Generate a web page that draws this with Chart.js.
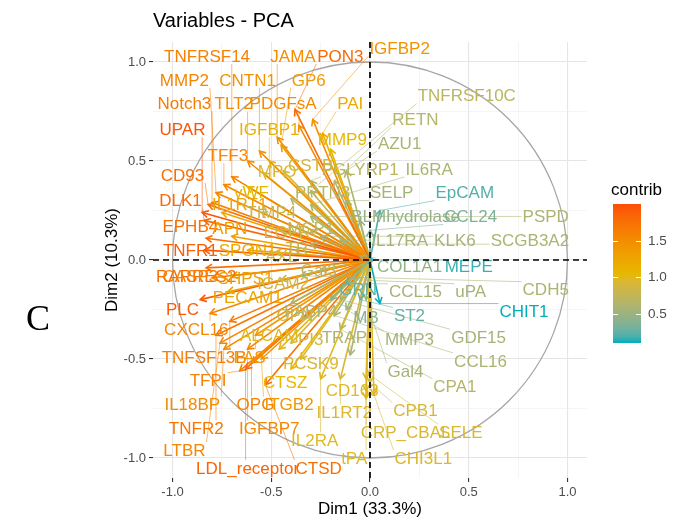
<!DOCTYPE html>
<html>
<head>
<meta charset="utf-8">
<script src="https://cdn.jsdelivr.net/npm/chart.js@4.4.1/dist/chart.umd.min.js"></script>
<style>
  html, body { margin: 0; padding: 0; background: #fff; }
  #wrap { width: 673px; height: 520px; }
</style>
</head>
<body>
<div id="wrap"><canvas id="pca" width="673" height="520"></canvas></div>
<script>
// PCA - cercle des variables (Dim1 / Dim2), couleur = contrib

const names = ["TNFRSF14","JAMA","PON3","MMP2","CNTN1","GP6","IGFBP2","Notch3","TLT2","PDGFsA",
  "PAI","UPAR","IGFBP1","MMP9","TFF3","MPO","CSTB","PGLYRP1","CD93","vWF",
  "PRTN3","DLK1","IL1RT1","TIMP4","EPHB4","APN","TNFR1","SPON1","RARRES2","CASP3",
  "SHPS1","PECAM1","PLC","CXCL16","FABP4","MB","ALCAM","GRN","PI3","TRAP",
  "TNFSF13B","FAS","PCSK9","Gal4","TFPI","CTSZ","CD163","IL18BP","OPG","ITGB2",
  "IL1RT2","CPB1","TNFR2","IGFBP7","CRP_CBAL","SELE","IL2RA","LTBR","tPA","CHI3L1",
  "LDL_receptor","CTSD","TNFRSF10C","RETN","AZU1","IL6RA","SELP","EpCAM","BLMhydrolase","CCL24",
  "PSPD","IL17RA","KLK6","SCGB3A2","COL1A1","MEPE","CDH5","CCL15","uPA","CHIT1",
  "ST2","GDF15","MMP3","CCL16","CPA1","EGFR","AXL","ICAM2","OPN","MCP1",
  "Gal3","TR"];

// coordonnées des flèches
const dim1 = [-0.70,-0.47,-0.38,-0.78,-0.56,-0.45,-0.29,-0.80,-0.62,-0.36,
  -0.24,-0.85,-0.51,-0.20,-0.74,-0.54,-0.44,-0.30,-0.82,-0.62,
  -0.40,-0.84,-0.75,-0.55,-0.83,-0.70,-0.84,-0.62,-0.83,-0.80,
  -0.70,-0.72,-0.86,-0.81,-0.40,-0.20,-0.46,-0.12,-0.40,-0.10,
  -0.71,-0.58,-0.35,-0.02,-0.66,-0.40,-0.02,-0.74,-0.60,-0.55,
  -0.15,0.00,-0.78,-0.62,-0.02,0.00,-0.25,-0.76,-0.02,0.02,
  -0.63,-0.53,-0.30,-0.18,-0.12,-0.30,-0.12,0.05,-0.05,0.00,
  -0.30,-0.15,-0.25,-0.30,-0.05,0.02,-0.35,-0.10,-0.08,0.05,
  -0.05,-0.15,-0.12,-0.18,-0.15,-0.45,-0.48,-0.45,-0.35,-0.30,
  -0.25,-0.38];
const dim2 = [0.42,0.62,0.76,0.34,0.55,0.58,0.71,0.29,0.50,0.68,
  0.64,0.24,0.50,0.56,0.38,0.44,0.45,0.40,0.28,0.37,
  0.31,0.20,0.24,0.24,0.11,0.12,0.05,0.05,-0.04,-0.09,
  -0.08,-0.16,-0.20,-0.27,-0.22,-0.20,-0.45,-0.12,-0.42,-0.48,
  -0.31,-0.38,-0.50,-0.20,-0.56,-0.55,-0.60,-0.45,-0.52,-0.50,
  -0.60,-0.62,-0.38,-0.45,-0.66,-0.58,-0.60,-0.42,-0.70,-0.68,
  -0.55,-0.63,0.35,0.40,0.45,0.28,0.30,0.25,0.20,0.15,
  0.22,0.10,0.12,0.08,0.02,0.00,-0.08,-0.12,-0.10,-0.22,
  -0.20,-0.20,-0.25,-0.28,-0.35,0.15,0.04,-0.10,-0.30,0.15,
  -0.05,0.05];
const contrib = [1.60,1.50,1.80,1.55,1.45,1.35,1.45,1.65,1.50,1.50,
  1.20,1.97,1.15,1.05,1.55,0.95,0.90,0.70,1.75,1.05,
  0.65,1.80,1.25,0.80,1.75,1.30,1.90,1.20,1.75,1.60,
  1.30,1.25,1.90,1.55,0.60,0.40,1.00,0.25,0.90,0.60,
  1.65,1.35,0.95,0.55,1.60,1.05,1.00,1.50,1.60,1.40,
  0.95,0.90,1.70,1.55,0.95,0.95,1.00,1.55,1.00,0.95,
  1.85,1.75,0.70,0.65,0.60,0.60,0.55,0.20,0.45,0.35,
  0.60,0.55,0.55,0.60,0.45,0.15,0.60,0.55,0.55,0.10,
  0.25,0.55,0.55,0.60,0.65,0.85,0.90,0.85,0.80,0.70,
  0.65,0.75];

// positions des étiquettes (repoussées)
const labelX = [-0.825,-0.39,-0.15,-0.94,-0.62,-0.31,0.15,-0.94,-0.69,-0.44,
  -0.10,-0.95,-0.51,-0.14,-0.72,-0.47,-0.30,-0.05,-0.95,-0.60,
  -0.24,-0.96,-0.66,-0.50,-0.91,-0.71,-0.91,-0.62,-0.88,-0.91,
  -0.63,-0.62,-0.95,-0.88,-0.30,-0.02,-0.51,-0.06,-0.30,-0.13,
  -0.84,-0.61,-0.30,0.18,-0.82,-0.43,-0.09,-0.90,-0.58,-0.41,
  -0.13,0.23,-0.88,-0.51,0.18,0.46,-0.28,-0.94,-0.08,0.27,
  -0.62,-0.26,0.49,0.23,0.15,0.30,0.11,0.48,0.18,0.51,
  0.89,0.15,0.43,0.81,0.20,0.50,0.89,0.23,0.51,0.78,
  0.20,0.55,0.20,0.56,0.43,-0.42,-0.45,-0.44,-0.38,-0.30,
  -0.26,-0.37];
const labelY = [1.03,1.03,1.03,0.91,0.91,0.91,1.07,0.79,0.79,0.79,
  0.79,0.66,0.66,0.61,0.53,0.45,0.48,0.46,0.43,0.34,
  0.34,0.30,0.28,0.24,0.17,0.16,0.05,0.05,-0.08,-0.08,
  -0.09,-0.19,-0.25,-0.35,-0.26,-0.29,-0.38,-0.15,-0.40,-0.39,
  -0.49,-0.49,-0.52,-0.56,-0.61,-0.62,-0.66,-0.73,-0.73,-0.73,
  -0.77,-0.76,-0.85,-0.85,-0.87,-0.87,-0.91,-0.96,-1.00,-1.00,
  -1.05,-1.05,0.83,0.71,0.59,0.46,0.34,0.34,0.22,0.22,
  0.22,0.10,0.10,0.10,-0.03,-0.03,-0.15,-0.16,-0.16,-0.26,
  -0.28,-0.39,-0.40,-0.51,-0.64,0.14,0.02,-0.12,-0.28,0.16,
  -0.05,0.06];

const axisTicks = [-1, -0.5, 0, 0.5, 1];
const gridSteps = [-1, -0.75, -0.5, -0.25, 0, 0.25, 0.5, 0.75, 1];
const legendTicks = [0.5, 1.0, 1.5];

const FONT = '"Liberation Sans", Arial, Helvetica, sans-serif';
const LOW = [0, 175, 187], MID = [231, 184, 0], HIGH = [252, 78, 7];
const C_MIN = Math.min(...contrib), C_MAX = Math.max(...contrib) + 0.03;

// interpolation dans l'espace Lab (comme ggplot)
const toLin = c => { c /= 255; return c <= 0.04045 ? c / 12.92 : Math.pow((c + 0.055) / 1.055, 2.4); };
const toSrgb = c => { const v = c <= 0.0031308 ? 12.92 * c : 1.055 * Math.pow(c, 1 / 2.4) - 0.055; return Math.round(Math.max(0, Math.min(1, v)) * 255); };
const WN = [0.95047, 1, 1.08883];
function rgb2lab(rgb) {
  const [r, g, b] = rgb.map(toLin);
  const xyz = [0.4124 * r + 0.3576 * g + 0.1805 * b, 0.2126 * r + 0.7152 * g + 0.0722 * b, 0.0193 * r + 0.1192 * g + 0.9505 * b];
  const f = xyz.map((v, k) => { const t = v / WN[k]; return t > 0.008856 ? Math.cbrt(t) : 7.787 * t + 16 / 116; });
  return [116 * f[1] - 16, 500 * (f[0] - f[1]), 200 * (f[1] - f[2])];
}
function lab2rgb([L, a, bb]) {
  const fy = (L + 16) / 116, fx = fy + a / 500, fz = fy - bb / 200;
  const inv = t => t > 0.206893 ? t * t * t : (t - 16 / 116) / 7.787;
  const X = inv(fx) * WN[0], Y = inv(fy) * WN[1], Z = inv(fz) * WN[2];
  const r = 3.2406 * X - 1.5372 * Y - 0.4986 * Z;
  const g = -0.9689 * X + 1.8758 * Y + 0.0415 * Z;
  const b = 0.0557 * X - 0.2040 * Y + 1.0570 * Z;
  return [toSrgb(r), toSrgb(g), toSrgb(b)];
}
const LAB = [LOW, MID, HIGH].map(rgb2lab);
const mix = (a, b, t) => a.map((v, k) => v + (b[k] - v) * t);

function colorFor(v, alpha = 1) {
  let t = (v - C_MIN) / (C_MAX - C_MIN);
  t = Math.max(0, Math.min(1, t));
  const lab = t < 0.5 ? mix(LAB[0], LAB[1], t * 2) : mix(LAB[1], LAB[2], (t - 0.5) * 2);
  const c = lab2rgb(lab);
  return `rgba(${c[0]},${c[1]},${c[2]},${alpha})`;
}
const isMajor = v => axisTicks.some(t => Math.abs(t - v) < 1e-9);

const datasets = names.map((n, i) => ({
  label: n,
  data: [{ x: 0, y: 0 }, { x: dim1[i], y: dim2[i] }],
  showLine: true,
  borderColor: colorFor(contrib[i]),
  borderWidth: 1.6,
  pointRadius: 0,
  fill: false
}));

const pcaLayer = {
  id: "pcaLayer",
  beforeDatasetsDraw(chart) {
    const { ctx, scales: { x: xs, y: ys } } = chart;
    const cx = xs.getPixelForValue(0), cy = ys.getPixelForValue(0);
    const rx = xs.getPixelForValue(1) - cx, ry = cy - ys.getPixelForValue(1);
    ctx.save();
    ctx.strokeStyle = "#a6a6a6";
    ctx.lineWidth = 1.3;
    ctx.beginPath();
    ctx.ellipse(cx, cy, rx, ry, 0, 0, Math.PI * 2);
    ctx.stroke();
    ctx.restore();
  },
  afterDatasetsDraw(chart) {
    const { ctx, chartArea, scales: { x: xs, y: ys } } = chart;
    const px = v => xs.getPixelForValue(v), py = v => ys.getPixelForValue(v);
    const ox = px(0), oy = py(0);
    ctx.save();

    // têtes de flèches (ouvertes)
    const L = 7, A = Math.PI / 6;
    names.forEach((n, i) => {
      const tx = px(dim1[i]), ty = py(dim2[i]);
      const ang = Math.atan2(ty - oy, tx - ox);
      ctx.strokeStyle = colorFor(contrib[i]);
      ctx.lineWidth = 1.6;
      ctx.beginPath();
      ctx.moveTo(tx - L * Math.cos(ang - A), ty - L * Math.sin(ang - A));
      ctx.lineTo(tx, ty);
      ctx.lineTo(tx - L * Math.cos(ang + A), ty - L * Math.sin(ang + A));
      ctx.stroke();
    });

    // segments vers les étiquettes
    ctx.font = `17px ${FONT}`;
    names.forEach((n, i) => {
      const tx = px(dim1[i]), ty = py(dim2[i]);
      const lx = px(labelX[i]), ly = py(labelY[i]);
      const w = ctx.measureText(n).width, h = 14;
      const bx = Math.max(lx - w / 2 - 1, Math.min(tx, lx + w / 2 + 1));
      const by = Math.max(ly - h / 2 - 1, Math.min(ty, ly + h / 2 + 1));
      if (Math.hypot(bx - tx, by - ty) < 6) return;
      ctx.strokeStyle = colorFor(contrib[i], 0.8);
      ctx.lineWidth = 0.7;
      ctx.beginPath();
      ctx.moveTo(tx, ty);
      ctx.lineTo(bx, by);
      ctx.stroke();
    });

    // étiquettes
    ctx.textAlign = "center";
    ctx.textBaseline = "middle";
    names.forEach((n, i) => {
      ctx.fillStyle = colorFor(contrib[i]);
      ctx.fillText(n, px(labelX[i]), py(labelY[i]) + 1);
    });

    // axes en pointillés
    ctx.strokeStyle = "#000";
    ctx.lineWidth = 1.7;
    ctx.setLineDash([6, 4]);
    ctx.beginPath();
    ctx.moveTo(chartArea.left, oy); ctx.lineTo(chartArea.right, oy);
    ctx.moveTo(ox, chartArea.top); ctx.lineTo(ox, chartArea.bottom);
    ctx.stroke();
    ctx.restore();
  },
  afterDraw(chart) {
    const { ctx, chartArea } = chart;
    ctx.save();
    ctx.fillStyle = "#000";
    ctx.textBaseline = "middle";

    // titre
    ctx.font = `20px ${FONT}`;
    ctx.textAlign = "left";
    ctx.fillText("Variables - PCA", chartArea.left, 21);

    // titres des axes
    ctx.font = `17px ${FONT}`;
    ctx.textAlign = "center";
    ctx.fillText("Dim1 (33.3%)", (chartArea.left + chartArea.right) / 2, 509);
    ctx.save();
    ctx.translate(112, (chartArea.top + chartArea.bottom) / 2);
    ctx.rotate(-Math.PI / 2);
    ctx.fillText("Dim2 (10.3%)", 0, 0);
    ctx.restore();

    // lettre du panneau
    ctx.font = `36px "Liberation Serif", "Times New Roman", serif`;
    ctx.fillText("C", 38, 321);

    // légende contrib
    const bx = 613, bw = 28, top = 204, bot = 343;
    ctx.font = `17px ${FONT}`;
    ctx.textAlign = "left";
    ctx.fillText("contrib", 611, 190);
    const grad = ctx.createLinearGradient(0, bot, 0, top);
    for (let k = 0; k <= 20; k++) {
      grad.addColorStop(k / 20, colorFor(C_MIN + (C_MAX - C_MIN) * k / 20));
    }
    ctx.fillStyle = grad;
    ctx.fillRect(bx, top, bw, bot - top);
    const vy = v => bot - (v - C_MIN) / (C_MAX - C_MIN) * (bot - top);
    ctx.strokeStyle = "#fff";
    ctx.lineWidth = 1;
    ctx.font = `13.5px ${FONT}`;
    ctx.fillStyle = "#4d4d4d";
    legendTicks.forEach(v => {
      const y = Math.round(vy(v)) + 0.5;
      ctx.beginPath();
      ctx.moveTo(bx, y); ctx.lineTo(bx + 5, y);
      ctx.moveTo(bx + bw - 5, y); ctx.lineTo(bx + bw, y);
      ctx.stroke();
      ctx.fillText(v.toFixed(1), 648, y);
    });
    ctx.restore();
  }
};

function axisCfg(isX, lim) {
  return {
    type: "linear",
    min: -lim,
    max: lim,
    afterBuildTicks: s => { s.ticks = gridSteps.map(v => ({ value: v })); },
    afterFit: s => { if (isX) s.height = 42; else s.width = 153; },
    ticks: {
      autoSkip: false,
      maxRotation: 0,
      padding: 3,
      color: "#4d4d4d",
      font: { family: FONT, size: 13 },
      callback: v => isMajor(v) ? v.toFixed(1) : ""
    },
    grid: {
      color: c => isMajor(c.tick.value) ? "#e5e5e5" : "#efefef",
      lineWidth: c => isMajor(c.tick.value) ? 1.1 : 0.6,
      tickLength: 4,
      tickColor: c => isMajor(c.tick.value) ? "#333" : "rgba(0,0,0,0)"
    },
    border: { display: false }
  };
}

new Chart(document.getElementById("pca"), {
  type: "scatter",
  data: { datasets },
  options: {
    responsive: false,
    animation: false,
    devicePixelRatio: 1,
    layout: { padding: { top: 42, right: 86, bottom: 0, left: 0 } },
    plugins: { legend: { display: false }, tooltip: { enabled: false } },
    scales: { x: axisCfg(true, 1.099), y: axisCfg(false, 1.101) }
  },
  plugins: [pcaLayer]
});
</script>
</body>
</html>
